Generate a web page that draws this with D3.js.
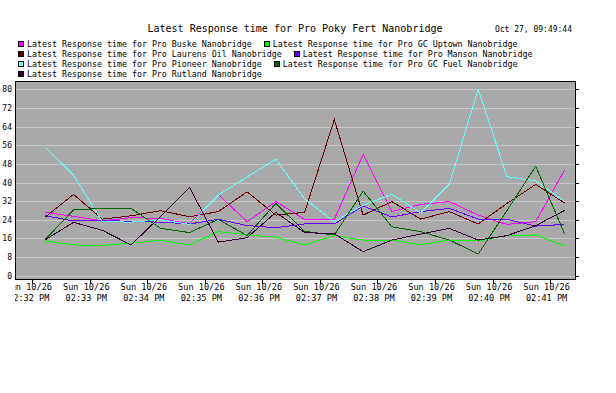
<!DOCTYPE html>
<html>
<head>
<meta charset="utf-8">
<script src="https://cdn.jsdelivr.net/npm/d3@7"></script>
<style>
  html, body { margin: 0; padding: 0; background: #ffffff; }
  svg { display: block; }
  text { font-family: "DejaVu Sans Mono", "Liberation Mono", monospace; fill: #000; }
</style>
</head>
<body>
<svg id="chart" width="616" height="393"></svg>
<script>
// ---- data ----
const chartTitle = "Latest Response time for Pro Poky Fert Nanobridge";
const stampText = "Oct 27, 09:49:44";
const day = "2014-10-26";
const times = ["14:32:13","14:32:43","14:33:13","14:33:43","14:34:14","14:34:44","14:35:14","14:35:44","14:36:14","14:36:44","14:37:15","14:37:45","14:38:15","14:38:45","14:39:15","14:39:45","14:40:15","14:40:45","14:41:15"];
const seriesNames = [
  "Latest Response time for Pro Buske Nanobridge",
  "Latest Response time for Pro GC Uptown Nanobridge",
  "Latest Response time for Pro Laurens Oil Nanobridge",
  "Latest Response time for Pro Manson Nanobridge",
  "Latest Response time for Pro Pioneer Nanobridge",
  "Latest Response time for Pro GC Fuel Nanobridge",
  "Latest Response time for Pro Rutland Nanobridge"
];
const seriesColors = ["#ff00ff", "#00ff00", "#660000", "#6a00ff", "#66ffff", "#006600", "#330033"];
const buske     = [27.2, 25.5, 23.5, 24.9, 24.6, 22.2, 34.8, 23.2, 31.8, 24.2, 24.2, 52, 27.5, 30.6, 31.8, 26, 22, 23.2, 45.3];
const gcUptown  = [15, 13.2, 13, 13.9, 15.2, 13.2, 18.9, 17.5, 16.5, 13.2, 17.2, 15.3, 15.3, 13.2, 15.3, 14.9, 17.2, 17.5, 12.9];
const laurens   = [25, 34.9, 24.3, 25.7, 27.9, 25.3, 27.5, 36, 26, 27.2, 67, 26, 31.8, 24.3, 27.5, 22.2, 31, 39.2, 31.2];
const manson    = [25.8, 23.5, 23.9, 23.2, 23, 22.2, 24.2, 21.5, 20.6, 22.2, 22.2, 29.9, 25.2, 27.5, 28.9, 24.3, 24.2, 21.3, 22];
const pioneer   = [55.4, 43.2, 23.2, 23, 24, 22, 34.6, 42.4, 50, 33, 23.2, 30.3, 34.9, 27, 39.4, 80, 42.5, 40.7, 32];
const gcFuel    = [15.3, 28.2, 28.9, 28.9, 20.3, 18.5, 24.2, 17.2, 31, 19, 17.5, 36.3, 21, 18.9, 15.3, 9.3, 28, 47, 18];
const rutland   = [15.3, 22.9, 19.5, 13.2, 25.5, 37.9, 14.4, 16.3, 27.2, 18.5, 18, 10.3, 15.3, 17.9, 20.3, 15.3, 17.2, 21.5, 28];
const seriesValues = [buske, gcUptown, laurens, manson, pioneer, gcFuel, rutland];
const yTicks = [0, 8, 16, 24, 32, 40, 48, 56, 64, 72, 80];
const xDomain = ["14:31:42.6", "14:41:27"];

// ---- layout ----
const plot = { left: 15, right: 576, top: 81, bottom: 280 };
const parse = d3.timeParse("%Y-%m-%d %H:%M:%S.%L");
const parseT = s => parse(day + " " + (s.includes(".") ? s : s + ".000"));
const dates = times.map(parseT);

const x = d3.scaleTime().domain(xDomain.map(parseT)).range([plot.left, plot.right]);
const y = d3.scaleLinear().domain([0, 80]).range([275.7, 89.3]);

const svg = d3.select("#chart");

// title
svg.append("text").attr("x", 295).attr("y", 31.5).attr("text-anchor", "middle")
  .style("font-size", "10px").text(chartTitle);
svg.append("text").attr("x", 572).attr("y", 32).attr("text-anchor", "end")
  .style("font-size", "8px").text(stampText);

// legend (flow layout)
const legendRows = [[0, 1], [2, 3], [4, 5], [6]];
const lg = svg.append("g");
legendRows.forEach((row, ri) => {
  let cx = 18;
  const cy = 44 + ri * 10;
  row.forEach(si => {
    lg.append("rect").attr("x", cx + 0.5).attr("y", cy - 2.5).attr("width", 5).attr("height", 5)
      .attr("fill", seriesColors[si]).attr("stroke", "#000").attr("stroke-width", 1)
      .attr("shape-rendering", "crispEdges");
    const t = lg.append("text").attr("x", cx + 9).attr("y", cy + 3)
      .style("font-size", "8.3px").text(seriesNames[si]);
    cx = cx + 9 + t.node().getComputedTextLength() + 12;
  });
});

// plot background
svg.append("rect").attr("x", plot.left).attr("y", plot.top)
  .attr("width", plot.right - plot.left).attr("height", plot.bottom - plot.top)
  .attr("fill", "#a9a9a9").attr("shape-rendering", "crispEdges");

// gridlines
svg.append("g").selectAll("line").data(yTicks).join("line")
  .attr("x1", plot.left).attr("x2", plot.right)
  .attr("y1", d => Math.round(y(d)) + 0.5).attr("y2", d => Math.round(y(d)) + 0.5)
  .attr("stroke", "#c6c6c6").attr("stroke-width", 1).attr("shape-rendering", "crispEdges");

// y labels (left) and right ticks
const yAxisL = d3.axisLeft(y).tickValues(yTicks).tickSize(0).tickPadding(0);
const gyl = svg.append("g").attr("transform", "translate(12,0)").call(yAxisL);
gyl.select(".domain").remove();
gyl.selectAll("text").style("font-size", "8px").style("font-family", "DejaVu Sans Mono, monospace").attr("fill", "#000");

const yAxisR = d3.axisRight(y).tickValues(yTicks).tickSize(3).tickFormat("");
const gyr = svg.append("g").attr("transform", `translate(${plot.right},0)`).call(yAxisR);
gyr.select(".domain").remove();
gyr.selectAll("line").attr("stroke", "#000").attr("shape-rendering", "crispEdges");

// clip for x labels
svg.append("clipPath").attr("id", "xclip").append("rect")
  .attr("x", plot.left).attr("y", 0).attr("width", 616 - plot.left).attr("height", 393);

// x axis
const xTicks = d3.timeMinute.every(1).range(parseT("14:32:00"), parseT("14:41:30"));
const xAxis = d3.axisBottom(x).tickValues(xTicks).tickSize(5).tickFormat("");
const gx = svg.append("g").attr("transform", `translate(0,${plot.bottom - 1})`).call(xAxis);
gx.select(".domain").remove();
gx.selectAll("line").attr("stroke", "#000").attr("shape-rendering", "crispEdges");

const fmt1 = d3.timeFormat("%a %m/%d");
const fmt2 = d3.timeFormat("%I:%M %p");
const xl = svg.append("g").attr("clip-path", "url(#xclip)");
xl.selectAll("text.l1").data(xTicks).join("text").attr("class", "l1")
  .attr("x", d => x(d) - 3.5).attr("y", 290).attr("text-anchor", "middle")
  .style("font-size", "8.6px").text(d => fmt1(d).replace(/ 0/, " "));
xl.selectAll("text.l2").data(xTicks).join("text").attr("class", "l2")
  .attr("x", d => x(d) - 3.5).attr("y", 300.5).attr("text-anchor", "middle")
  .style("font-size", "8.6px").text(d => fmt2(d));

// lines
const line = d3.line().x((d, i) => x(dates[i])).y(d => y(d));
svg.append("g").selectAll("path").data(seriesValues).join("path")
  .attr("d", d => line(d)).attr("fill", "none")
  .attr("stroke", (d, i) => seriesColors[i]).attr("stroke-width", 1)
  .attr("shape-rendering", "crispEdges");

// border
svg.append("rect").attr("x", plot.left + 0.5).attr("y", plot.top + 0.5)
  .attr("width", plot.right - plot.left - 1).attr("height", plot.bottom - plot.top - 1)
  .attr("fill", "none").attr("stroke", "#000").attr("stroke-width", 1)
  .attr("shape-rendering", "crispEdges");
</script>
</body>
</html>
